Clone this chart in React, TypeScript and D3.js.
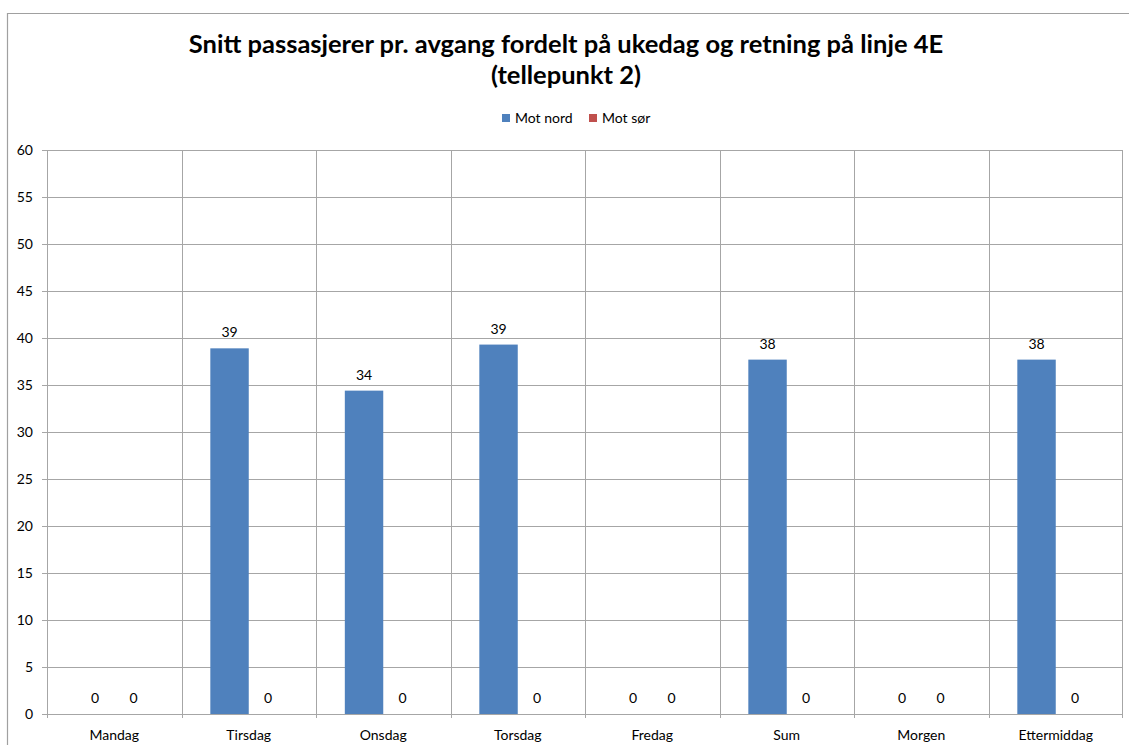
import React from "react";
import * as d3 from "d3";

const categories = ["Mandag", "Tirsdag", "Onsdag", "Torsdag", "Fredag", "Sum", "Morgen", "Ettermiddag"];
const motNord = [0, 38.9, 34.4, 39.3, 0, 37.7, 0, 37.7];
const motSor = [0, 0, 0, 0, 0, 0, 0, 0];
const seriesNames = ["Mot nord", "Mot sør"];
const seriesColors = ["#4F81BD", "#C0504D"];
const yTicks = [0, 5, 10, 15, 20, 25, 30, 35, 40, 45, 50, 55, 60];
const titleLines = ["Snitt passasjerer pr. avgang fordelt på ukedag og retning på linje 4E", "(tellepunkt 2)"];

const W = 1129;
const H = 745;
const FONT = "Lato, Carlito, Calibri, 'Open Sans', sans-serif";

export default function App() {
  const left = 47, right = 1123, top = 150, bottom = 714;
  const x = d3.scaleBand<string>().domain(categories).range([left, right]).paddingInner(0).paddingOuter(0);
  const y = d3.scaleLinear().domain([0, 60]).range([bottom, top]);
  const bw = x.bandwidth();
  const barW = bw / 3.5;
  const series = [motNord, motSor];
  const fmt = d3.format(".0f");
  const grid = "#a6a6a6";

  return (
    <svg width={W} height={H} style={{ position: "absolute", left: 0, top: 0, background: "#fff" }} fontFamily={FONT}>
      <rect x={0} y={0} width={W} height={H} fill="#fff" />
      {/* outer frame */}
      <path d={`M7.5,${H} V13.5 H${W}`} fill="none" stroke="#a0a0a0" strokeWidth={1.2} />
      {/* title */}
      {titleLines.map((t, i) => (
        <text key={i} x={566} y={53 + i * 31} textAnchor="middle" fontSize={25.5} fontWeight="bold" fill="#000">
          {t}
        </text>
      ))}
      {/* legend */}
      {seriesNames.map((n, i) => {
        const lx = [502, 589][i];
        return (
          <g key={n}>
            <rect x={lx} y={114} width={8} height={8} fill={seriesColors[i]} />
            <text x={lx + 13} y={123} fontSize={14} fill="#000">{n}</text>
          </g>
        );
      })}
      {/* horizontal gridlines + y ticks */}
      {yTicks.map((t) => (
        <g key={t}>
          <line x1={left - 5} x2={right} y1={Math.round(y(t)) + 0.5} y2={Math.round(y(t)) + 0.5} stroke={grid} strokeWidth={1} />
          <text x={33} y={y(t) + 5} textAnchor="end" fontSize={14} fill="#000">{t}</text>
        </g>
      ))}
      {/* vertical gridlines */}
      {categories.map((c) => (
        <line key={c} x1={Math.round(x(c)!) + 0.5} x2={Math.round(x(c)!) + 0.5} y1={top} y2={bottom + 4} stroke={grid} strokeWidth={1} />
      ))}
      <line x1={right - 0.5} x2={right - 0.5} y1={top} y2={bottom + 4} stroke={grid} strokeWidth={1} />
      {/* bars */}
      {categories.map((c, i) => {
        const cx = x(c)! + bw / 2;
        return series.map((s, j) => {
          const bx = cx - barW + j * barW;
          const v = s[i];
          return (
            <g key={c + j}>
              {v > 0 && (
                <rect x={bx} y={y(v)} width={barW} height={y(0) - y(v)} fill={seriesColors[j]} />
              )}
              <text x={bx + barW / 2} y={y(v) - 11} textAnchor="middle" fontSize={14} fill="#000">
                {fmt(v)}
              </text>
            </g>
          );
        });
      })}
      {/* x labels */}
      {categories.map((c) => (
        <text key={c} x={x(c)! + bw / 2} y={740} textAnchor="middle" fontSize={14} fill="#000">{c}</text>
      ))}
    </svg>
  );
}
